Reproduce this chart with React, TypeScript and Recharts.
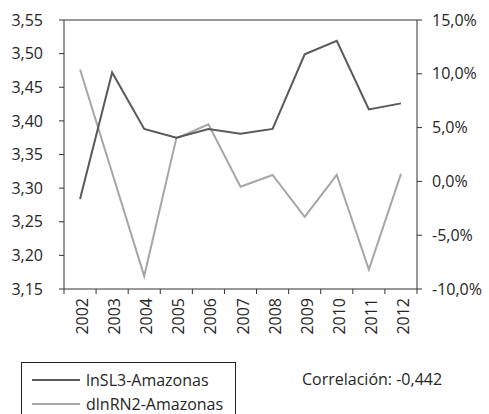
import React from 'react';
import { ComposedChart, Line, XAxis, YAxis, ReferenceLine } from 'recharts';

const years = ['2002', '2003', '2004', '2005', '2006', '2007', '2008', '2009', '2010', '2011', '2012'];
const lnSL3 = [3.284, 3.472, 3.388, 3.375, 3.388, 3.381, 3.388, 3.499, 3.519, 3.417, 3.426];
const dlnRN2 = [10.4, 0.8, -8.8, 4.0, 5.3, -0.5, 0.6, -3.3, 0.6, -8.2, 0.7];
const leftTicks = [3.15, 3.2, 3.25, 3.3, 3.35, 3.4, 3.45, 3.5, 3.55];
const rightTicks = [-10, -5, 0, 5, 10, 15];
const seriesNames = ['lnSL3-Amazonas', 'dlnRN2-Amazonas'];
const correlationText = 'Correlación: -0,442';

const W = 489;
const H = 414;
const LEFT_W = 64;
const RIGHT_W = 72;
const PLOT_W = W - LEFT_W - RIGHT_W;
const DARK = '#595959';
const LIGHT = '#A6A6A6';
const AXIS = '#333333';
const TEXT = '#262626';
const FONT = '"Open Sans", sans-serif';

const data = years.map((y, i) => ({ pos: i + 0.5, year: y, lnSL3: lnSL3[i], dlnRN2: dlnRN2[i] }));
const xTicks = Array.from({ length: years.length + 1 }, (_, i) => i);

const YearTick = (props: any) => {
  const { x, y, payload } = props;
  const i = payload.value;
  if (i >= years.length) return null;
  const half = PLOT_W / years.length / 2;
  const tx = x + half + 8;
  const ty = y + 2;
  return (
    <text
      x={tx}
      y={ty}
      transform={`rotate(-90, ${tx}, ${ty})`}
      textAnchor="end"
      fill={TEXT}
      fontSize={16}
      fontFamily={FONT}
    >
      {years[i]}
    </text>
  );
};

const fmtLeft = (v: number) => v.toFixed(2).replace('.', ',');
const fmtRight = (v: number) => v.toFixed(1).replace('.', ',') + '%';

export default function App() {
  return (
    <div style={{ position: 'absolute', left: 0, top: 0, width: W, height: H, fontFamily: FONT, overflow: 'hidden', background: '#fff' }}>
      <ComposedChart width={W} height={H} data={data} margin={{ top: 20, right: 0, bottom: 0, left: 0 }}>
        <XAxis
          xAxisId="x"
          type="number"
          dataKey="pos"
          domain={[0, years.length]}
          ticks={xTicks}
          interval={0}
          tickSize={5}
          tick={<YearTick />}
          height={125}
          axisLine={{ stroke: AXIS }}
          tickLine={{ stroke: AXIS }}
        />
        <YAxis
          yAxisId="left"
          domain={[3.15, 3.55]}
          ticks={leftTicks}
          interval={0}
          tickFormatter={fmtLeft}
          tickSize={5}
          tickMargin={16}
          width={LEFT_W}
          tick={{ fill: TEXT, fontSize: 16 }}
          axisLine={{ stroke: AXIS }}
          tickLine={{ stroke: AXIS }}
        />
        <YAxis
          yAxisId="right"
          orientation="right"
          domain={[-10, 15]}
          ticks={rightTicks}
          interval={0}
          tickFormatter={fmtRight}
          tickSize={5}
          tickMargin={10}
          width={RIGHT_W}
          tick={{ fill: TEXT, fontSize: 16, textAnchor: 'start' }}
          axisLine={{ stroke: AXIS }}
          tickLine={{ stroke: AXIS }}
        />
        <ReferenceLine xAxisId="x" yAxisId="left" y={3.55} stroke={AXIS} />
        <Line xAxisId="x" yAxisId="right" type="linear" dataKey="dlnRN2" stroke={LIGHT} strokeWidth={2} dot={false} isAnimationActive={false} />
        <Line xAxisId="x" yAxisId="left" type="linear" dataKey="lnSL3" stroke={DARK} strokeWidth={2} dot={false} isAnimationActive={false} />
      </ComposedChart>
      <div
        style={{
          position: 'absolute',
          left: 21,
          top: 362,
          width: 215,
          height: 70,
          border: '1px solid #222',
          boxSizing: 'border-box',
        }}
      >
        {seriesNames.map((name, i) => (
          <div key={name} style={{ position: 'absolute', left: 0, top: 5 + i * 24, height: 24, display: 'flex', alignItems: 'center' }}>
            <div style={{ width: 48, height: 0, borderTop: `2px solid ${i === 0 ? DARK : LIGHT}`, marginLeft: 10 }} />
            <span style={{ marginLeft: 6, fontSize: 16, color: TEXT, whiteSpace: 'nowrap', lineHeight: '24px' }}>{name}</span>
          </div>
        ))}
      </div>
      <div style={{ position: 'absolute', left: 302, top: 367, fontSize: 16, color: TEXT, lineHeight: '24px', whiteSpace: 'nowrap' }}>
        {correlationText}
      </div>
    </div>
  );
}
